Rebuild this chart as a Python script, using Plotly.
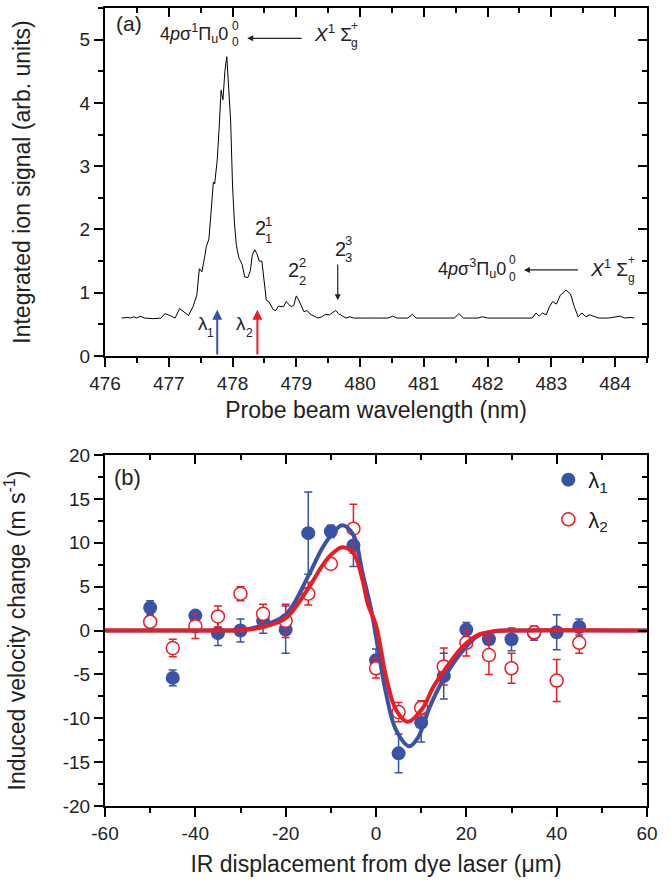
import plotly.graph_objects as go

# ---------------- data: panel (a) spectrum ----------------
wavelength_nm = [476.26, 476.35, 476.40, 476.45, 476.50, 476.55, 476.62, 476.75, 476.88, 476.94,
                 477.02, 477.10, 477.17, 477.24, 477.31, 477.38, 477.44, 477.48, 477.52, 477.56,
                 477.59, 477.63, 477.67, 477.70, 477.72, 477.76, 477.79, 477.82, 477.85, 477.88,
                 477.91, 477.94, 477.97, 478.00, 478.03, 478.06, 478.10, 478.15, 478.19, 478.24,
                 478.28, 478.31, 478.35, 478.38, 478.42, 478.46, 478.50, 478.53, 478.57, 478.60,
                 478.64, 478.68, 478.72, 478.76, 478.80, 478.84, 478.88, 478.92, 478.96, 479.00,
                 479.04, 479.08, 479.12, 479.17, 479.22, 479.28, 479.34, 479.40, 479.46, 479.52,
                 479.58, 479.62, 479.66, 479.72, 479.78, 479.84, 479.90, 480.20, 480.44, 480.51,
                 480.58, 480.75, 480.82, 480.88, 481.20, 481.48, 481.55, 481.62, 481.85, 481.92,
                 482.00, 482.40, 482.70, 482.76, 482.81, 482.86, 482.92, 482.97, 483.02, 483.08,
                 483.14, 483.23, 483.30, 483.36, 483.42, 483.48, 483.54, 483.60, 483.66, 483.74,
                 483.90, 484.08, 484.15, 484.25, 484.30]
ion_signal = [0.60, 0.61, 0.60, 0.62, 0.60, 0.63, 0.60, 0.59, 0.60, 0.67,
              0.64, 0.60, 0.75, 0.70, 0.64, 0.78, 0.96, 1.38, 1.33, 1.55,
              1.73, 1.85, 2.30, 2.75, 2.72, 3.10, 3.60, 4.20, 4.05, 4.50,
              4.73, 4.30, 3.73, 2.70, 2.10, 1.75, 1.55, 1.45, 1.25, 1.24,
              1.35, 1.60, 1.68, 1.62, 1.50, 1.50, 1.10, 0.88, 0.86, 0.80,
              0.73, 0.72, 0.79, 0.78, 0.78, 0.86, 0.82, 0.78, 0.80, 0.95,
              0.88, 0.78, 0.70, 0.72, 0.66, 0.63, 0.60, 0.62, 0.66, 0.65,
              0.70, 0.72, 0.67, 0.64, 0.60, 0.62, 0.60, 0.60, 0.60, 0.63,
              0.60, 0.60, 0.66, 0.60, 0.60, 0.60, 0.67, 0.60, 0.60, 0.62,
              0.60, 0.60, 0.60, 0.68, 0.63, 0.68, 0.65, 0.78, 0.86, 0.82,
              0.96, 1.04, 0.98, 0.78, 0.62, 0.68, 0.62, 0.65, 0.63, 0.60,
              0.60, 0.63, 0.60, 0.61, 0.60]
lambda1_nm = 477.76
lambda2_nm = 478.39

# ---------------- data: panel (b) ----------------
displacement_um = [-50, -45, -40, -35, -30, -25, -20, -15, -10, -5, 0, 5, 10, 15, 20, 25, 30, 35, 40, 45]
v_lambda1 = [2.6, -5.4, 1.7, -0.3, 0.0, 1.1, 0.1, 11.1, 11.3, 9.7, -3.4, -14.0, -10.5, -5.2, 0.1, -1.0, -1.0, -0.3, -0.2, 0.4]
err_lambda1 = [0.8, 0.9, 0.3, 1.4, 1.3, 1.4, 2.7, 4.7, 0.7, 2.4, 1.3, 2.2, 2.2, 2.6, 0.8, 0.4, 1.3, 0.8, 2.0, 0.9]
v_lambda2 = [1.0, -2.0, 0.5, 1.6, 4.2, 1.9, 1.1, 4.2, 7.6, 11.6, -4.3, -9.3, -8.8, -4.1, -1.4, -2.8, -4.3, -0.2, -5.7, -1.4]
err_lambda2 = [0.4, 1.0, 1.4, 1.2, 0.8, 1.1, 1.9, 1.3, 0.6, 2.8, 1.1, 1.1, 0.8, 2.1, 1.5, 2.2, 1.7, 0.7, 2.4, 1.2]

fit1_x = [-60, -35, -30, -25, -20, -15, -12, -10, -7.5, -5, -3, -1, 0, 2.2, 4.4, 7.4, 9.3, 12, 15.2, 18.9, 22.6, 26, 30, 60]
fit1_v = [0, 0, 0.05, 0.6, 1.8, 6.2, 9.3, 10.8, 12.0, 10.9, 6.6, 2.2, -0.7, -7.1, -11.3, -13.2, -12.2, -8.6, -5.3, -2.5, -0.6, -0.1, 0, 0]
fit2_x = [-60, -35, -30, -25, -20, -15, -12, -10, -7.5, -5, -3, -1.8, 0, 2.2, 4.4, 7, 10.4, 12.5, 15.2, 18.9, 22.6, 26, 30, 60]
fit2_v = [0, 0, 0.03, 0.4, 1.4, 4.8, 7.3, 8.6, 9.5, 8.8, 5.8, 3.0, 0.6, -5.2, -9.0, -10.4, -8.8, -6.6, -4.5, -2.0, -0.5, -0.1, 0, 0]

# tick labels (hyphen minus as in the reference)
a_xticks = [476, 477, 478, 479, 480, 481, 482, 483, 484]
a_yticks = [0, 1, 2, 3, 4, 5]
b_xticks = [-60, -40, -20, 0, 20, 40, 60]
b_yticks = [-20, -15, -10, -5, 0, 5, 10, 15, 20]

BLUE = "#3a53a4"
RED = "#ec1c24"
FONT = "Liberation Sans, Arial, sans-serif"

fig = go.Figure()

fig.add_trace(go.Scatter(x=wavelength_nm, y=ion_signal, mode="lines",
                         line=dict(color="black", width=1), showlegend=False,
                         xaxis="x", yaxis="y"))

fig.add_trace(go.Scatter(x=displacement_um, y=v_lambda1, mode="markers", name="λ<sub>1</sub>",
                         marker=dict(color=BLUE, size=14, symbol="circle"),
                         error_y=dict(type="data", array=err_lambda1, color=BLUE, thickness=1.5, width=4),
                         xaxis="x2", yaxis="y2", legendgroup="a"))
fig.add_trace(go.Scatter(x=displacement_um, y=v_lambda2, mode="markers", name="λ<sub>2</sub>",
                         marker=dict(color="white", size=13, symbol="circle",
                                     line=dict(color=RED, width=1.5)),
                         error_y=dict(type="data", array=err_lambda2, color=RED, thickness=1.5, width=4),
                         xaxis="x2", yaxis="y2", legendgroup="b"))
fig.add_trace(go.Scatter(x=fit1_x, y=fit1_v, mode="lines", line=dict(color=BLUE, width=4, shape="spline"),
                         showlegend=False, xaxis="x2", yaxis="y2"))
fig.add_trace(go.Scatter(x=fit2_x, y=fit2_v, mode="lines", line=dict(color=RED, width=4, shape="spline"),
                         showlegend=False, xaxis="x2", yaxis="y2"))

for xa, ya in [("x3", "y3"), ("x4", "y4")]:
    fig.add_trace(go.Scatter(x=[None], y=[None], xaxis=xa, yaxis=ya, showlegend=False, hoverinfo="skip"))

tickfont = dict(family=FONT, size=19, color="#222")
titlefont = dict(family=FONT, size=23, color="#222")


def fmt(v):
    return str(v).replace("−", "-")


def ax(ticks, minor_dtick, minor_tick0, **kw):
    d = dict(showgrid=False, zeroline=False, showline=True, linecolor="black", linewidth=2,
             ticks="outside", ticklen=9, tickwidth=1.5, tickcolor="black", tickfont=tickfont,
             tickmode="array", tickvals=ticks, ticktext=[fmt(t) for t in ticks], automargin=False,
             minor=dict(ticks="outside", ticklen=5, tickwidth=1.5, tickcolor="black",
                        tickmode="linear", tick0=minor_tick0, dtick=minor_dtick))
    d.update(kw)
    return d


def mirror_ax(ticks, minor_dtick, minor_tick0, **kw):
    d = dict(showgrid=False, zeroline=False, showline=True, linecolor="black", linewidth=2,
             ticks="inside", ticklen=9, tickwidth=1.5, tickcolor="black", showticklabels=False,
             tickmode="array", tickvals=ticks, automargin=False,
             minor=dict(ticks="inside", ticklen=5, tickwidth=1.5, tickcolor="black",
                        tickmode="linear", tick0=minor_tick0, dtick=minor_dtick))
    d.update(kw)
    return d


TOP = [0.5639, 1.0]
BOT = [0.0, 0.4398]
XR_A = [476, 484.5]
YR_A = [0, 5.5]
XR_B = [-60, 60]
YR_B = [-20, 20]

fig.update_layout(
    width=670, height=884,
    margin=dict(l=105, r=23, t=8, b=78, autoexpand=False),
    paper_bgcolor="white", plot_bgcolor="white",
    xaxis=ax(a_xticks, 0.5, 476, domain=[0, 1], anchor="y", range=XR_A,
             title=dict(text="Probe beam wavelength (nm)", font=titlefont, standoff=9)),
    yaxis=ax(a_yticks, 0.5, 0, domain=TOP, anchor="x", range=YR_A,
             title=dict(text="Integrated ion signal (arb. units)", font=titlefont, standoff=43)),
    xaxis2=ax(b_xticks, 10, -60, domain=[0, 1], anchor="y2", range=XR_B,
              title=dict(text="IR displacement from dye laser (μm)", font=titlefont, standoff=13)),
    yaxis2=ax(b_yticks, 2.5, -20, domain=BOT, anchor="x2", range=YR_B,
              title=dict(text="Induced velocity change (m s<sup>-1</sup>)", font=titlefont, standoff=31)),
    xaxis3=mirror_ax(a_xticks, 0.5, 476, overlaying="x", anchor="y", side="top", range=XR_A),
    yaxis3=mirror_ax(a_yticks, 0.5, 0, overlaying="y", anchor="x", side="right", range=YR_A),
    xaxis4=mirror_ax(b_xticks, 10, -60, overlaying="x2", anchor="y2", side="top", range=XR_B),
    yaxis4=mirror_ax(b_yticks, 2.5, -20, overlaying="y2", anchor="x2", side="right", range=YR_B),
    legend=dict(x=0.818, y=0.435, xanchor="left", yanchor="top", bgcolor="rgba(0,0,0,0)",
                font=dict(family=FONT, size=22, color="#222"), tracegroupgap=8, itemwidth=30),
    showlegend=True,
)

annos = []


def txt(x, y, text, size=18, xref="x", yref="y", xanchor="center"):
    annos.append(dict(x=x, y=y, xref=xref, yref=yref, text=text, showarrow=False,
                      font=dict(family=FONT, size=size, color="#222"), xanchor=xanchor, yanchor="middle"))


def arrow(x, y, axv, ayv, color="#222", width=1.2, size=1.0, xref="x", yref="y"):
    annos.append(dict(x=x, y=y, ax=axv, ay=ayv, xref=xref, yref=yref, axref=xref, ayref=yref,
                      text="", showarrow=True, arrowhead=2, arrowsize=size, arrowwidth=width,
                      arrowcolor=color, standoff=0, startstandoff=0))


# panel (a) labels
txt(476.38, 5.26, "(a)", size=21)
txt(477.965, 5.10, "4<i>p</i>σ<sup>1</sup>Π<sub>u</sub>0", size=18, xanchor="right")
txt(478.04, 5.21, "0", size=12)
txt(478.04, 4.97, "0", size=12)
arrow(478.23, 5.02, 479.11, 5.02)
txt(479.24, 5.10, "<i>X</i><sup>1</sup> Σ", size=19, xanchor="left")
txt(479.92, 5.22, "+", size=12)
txt(479.92, 4.95, "g", size=12)

txt(482.32, 1.39, "4<i>p</i>σ<sup>3</sup>Π<sub>u</sub>0", size=18, xanchor="right")
txt(482.39, 1.51, "0", size=12)
txt(482.39, 1.25, "0", size=12)
arrow(482.57, 1.36, 483.44, 1.36)
txt(483.58, 1.39, "<i>X</i><sup>1</sup> Σ", size=19, xanchor="left")
txt(484.26, 1.52, "+", size=12)
txt(484.26, 1.24, "g", size=12)

for (cx, cy, sx, s_up, s_dn, sup, sub) in [
        (478.44, 2.02, 478.56, 2.13, 1.86, "1", "1"),
        (478.96, 1.36, 479.09, 1.48, 1.19, "2", "2"),
        (479.69, 1.69, 479.82, 1.82, 1.55, "3", "3")]:
    txt(cx, cy, "2", size=20)
    txt(sx, s_up, sup, size=13)
    txt(sx, s_dn, sub, size=13)
arrow(479.65, 0.88, 479.65, 1.47)

txt(477.53, 0.52, "λ", size=19)
txt(477.66, 0.37, "1", size=12)
txt(478.14, 0.52, "λ", size=19)
txt(478.27, 0.37, "2", size=12)
arrow(lambda1_nm, 0.73, lambda1_nm, 0.0, color=BLUE, width=2, size=1.0)
arrow(lambda2_nm, 0.73, lambda2_nm, 0.0, color=RED, width=2, size=1.0)

annos.append(dict(x=-55.1, y=17.4, xref="x2", yref="y2", text="(b)", showarrow=False,
                  font=dict(family=FONT, size=22, color="#222"), xanchor="center", yanchor="middle"))

fig.update_layout(annotations=annos)
fig.write_html("out.html")
